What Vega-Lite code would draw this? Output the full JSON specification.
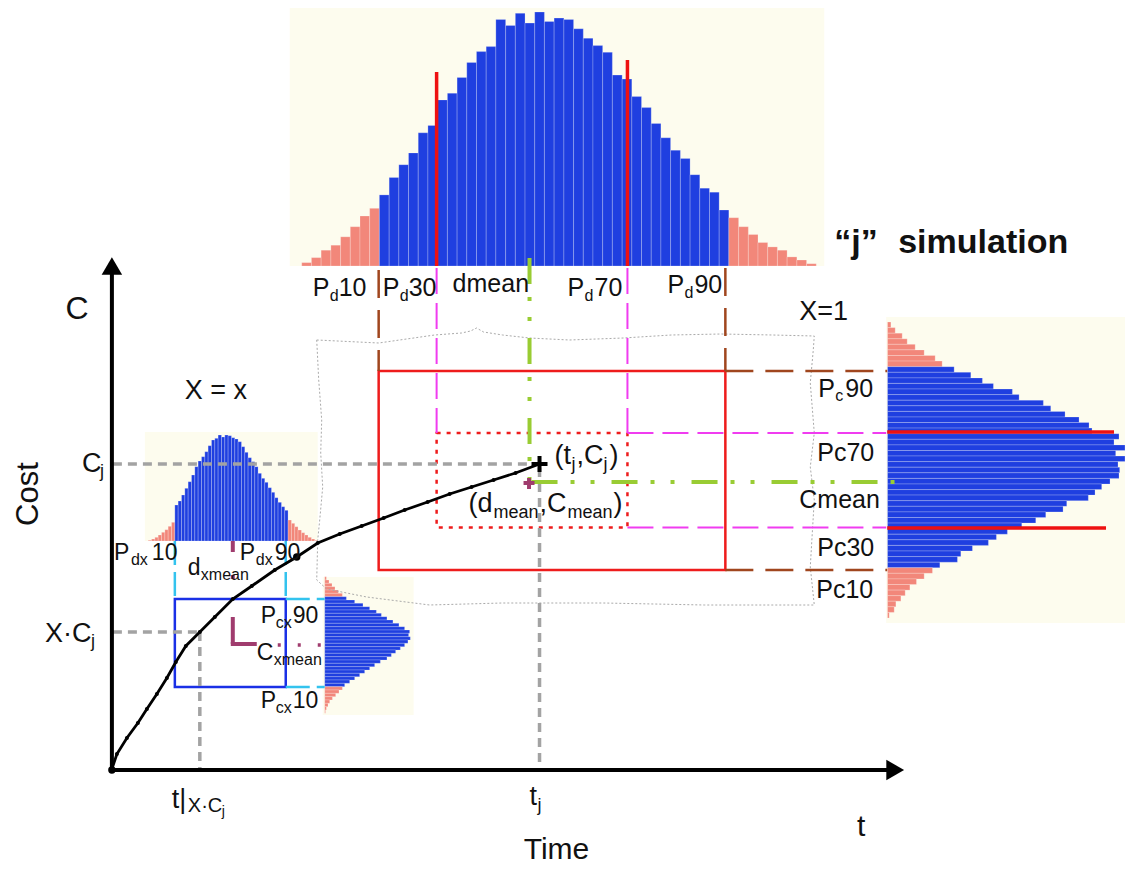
{
"$schema": "https://vega.github.io/schema/vega-lite/v6.json",
"width": 1126, "height": 870, "padding": 0,
"autosize": {"type": "fit", "contains": "padding"},
"background": "white",
"view": {"stroke": null},
"encoding": {
  "x": {"field": "x", "type": "quantitative", "scale": {"domain": [0, 1126], "nice": false, "zero": false}, "axis": null},
  "y": {"field": "y", "type": "quantitative", "scale": {"domain": [0, 870], "reverse": true, "nice": false, "zero": false}, "axis": null}
},
"layer": [
{"data": {"values": [
  {"x": 290, "x2": 825, "y": 8, "y2": 266},
  {"x": 887, "x2": 1126, "y": 317, "y2": 623},
  {"x": 145, "x2": 318, "y": 432, "y2": 541},
  {"x": 323, "x2": 414, "y": 577, "y2": 715}]},
 "mark": {"type": "rect", "fill": "#fdfcee"},
 "encoding": {"x2": {"field": "x2"}, "y2": {"field": "y2"}}},
{"data": {"values": [
{"x":302.0,"x2":311.7,"y":262.6,"y2":266,"c":"s"},{"x":311.7,"x2":321.4,"y":257.6,"y2":266,"c":"s"},{"x":321.4,"x2":331.2,"y":250.2,"y2":266,"c":"s"},{"x":331.2,"x2":340.9,"y":245.2,"y2":266,"c":"s"},{"x":340.9,"x2":350.6,"y":236.8,"y2":266,"c":"s"},{"x":350.6,"x2":360.3,"y":226.7,"y2":266,"c":"s"},{"x":360.3,"x2":370.0,"y":216.0,"y2":266,"c":"s"},{"x":370.0,"x2":379.7,"y":208.3,"y2":266,"c":"s"},
{"x":379.7,"x2":389.5,"y":194.9,"y2":266,"c":"b"},{"x":389.5,"x2":399.2,"y":177.4,"y2":266,"c":"b"},{"x":399.2,"x2":408.9,"y":164.7,"y2":266,"c":"b"},{"x":408.9,"x2":418.6,"y":152.9,"y2":266,"c":"b"},{"x":418.6,"x2":428.3,"y":132.8,"y2":266,"c":"b"},{"x":428.3,"x2":438.0,"y":125.4,"y2":266,"c":"b"},{"x":438.0,"x2":447.8,"y":99.9,"y2":266,"c":"b"},{"x":447.8,"x2":457.5,"y":93.2,"y2":266,"c":"b"},{"x":457.5,"x2":467.2,"y":77.4,"y2":266,"c":"b"},{"x":467.2,"x2":476.9,"y":62.4,"y2":266,"c":"b"},{"x":476.9,"x2":486.6,"y":51.6,"y2":266,"c":"b"},{"x":486.6,"x2":496.3,"y":46.6,"y2":266,"c":"b"},{"x":496.3,"x2":506.1,"y":19.4,"y2":266,"c":"b"},{"x":506.1,"x2":515.8,"y":25.4,"y2":266,"c":"b"},{"x":515.8,"x2":525.5,"y":13.3,"y2":266,"c":"b"},{"x":525.5,"x2":535.2,"y":23.1,"y2":266,"c":"b"},{"x":535.2,"x2":544.9,"y":12.0,"y2":266,"c":"b"},{"x":544.9,"x2":554.6,"y":21.4,"y2":266,"c":"b"},{"x":554.6,"x2":564.4,"y":18.1,"y2":266,"c":"b"},{"x":564.4,"x2":574.1,"y":19.4,"y2":266,"c":"b"},{"x":574.1,"x2":583.8,"y":28.8,"y2":266,"c":"b"},{"x":583.8,"x2":593.5,"y":38.2,"y2":266,"c":"b"},{"x":593.5,"x2":603.2,"y":45.6,"y2":266,"c":"b"},{"x":603.2,"x2":612.9,"y":52.3,"y2":266,"c":"b"},{"x":612.9,"x2":622.7,"y":75.1,"y2":266,"c":"b"},{"x":622.7,"x2":632.4,"y":79.1,"y2":266,"c":"b"},{"x":632.4,"x2":642.1,"y":96.6,"y2":266,"c":"b"},{"x":642.1,"x2":651.8,"y":107.6,"y2":266,"c":"b"},{"x":651.8,"x2":661.5,"y":123.4,"y2":266,"c":"b"},{"x":661.5,"x2":671.2,"y":137.8,"y2":266,"c":"b"},{"x":671.2,"x2":681.0,"y":150.2,"y2":266,"c":"b"},{"x":681.0,"x2":690.7,"y":158.6,"y2":266,"c":"b"},{"x":690.7,"x2":700.4,"y":174.7,"y2":266,"c":"b"},{"x":700.4,"x2":710.1,"y":188.2,"y2":266,"c":"b"},{"x":710.1,"x2":719.8,"y":192.2,"y2":266,"c":"b"},{"x":719.8,"x2":729.5,"y":210.0,"y2":266,"c":"b"},
{"x":729.5,"x2":739.3,"y":217.7,"y2":266,"c":"s"},{"x":739.3,"x2":749.0,"y":226.7,"y2":266,"c":"s"},{"x":749.0,"x2":758.7,"y":234.5,"y2":266,"c":"s"},{"x":758.7,"x2":768.4,"y":242.5,"y2":266,"c":"s"},{"x":768.4,"x2":778.1,"y":246.9,"y2":266,"c":"s"},{"x":778.1,"x2":787.8,"y":250.2,"y2":266,"c":"s"},{"x":787.8,"x2":797.6,"y":256.9,"y2":266,"c":"s"},{"x":797.6,"x2":807.3,"y":260.0,"y2":266,"c":"s"},{"x":807.3,"x2":817.0,"y":263.7,"y2":266,"c":"s"},
{"x":888.3,"x2":891.7,"y":322.0,"y2":327.6,"c":"s"},{"x":888.3,"x2":896,"y":327.6,"y2":333.2,"c":"s"},{"x":888.3,"x2":903,"y":333.2,"y2":338.8,"c":"s"},{"x":888.3,"x2":908,"y":338.8,"y2":344.3,"c":"s"},{"x":888.3,"x2":916,"y":344.3,"y2":349.9,"c":"s"},{"x":888.3,"x2":925,"y":349.9,"y2":355.5,"c":"s"},{"x":888.3,"x2":936,"y":355.5,"y2":361.1,"c":"s"},{"x":888.3,"x2":943,"y":361.1,"y2":366.7,"c":"s"},
{"x":888.3,"x2":955,"y":366.7,"y2":372.3,"c":"b"},{"x":888.3,"x2":971.7,"y":372.3,"y2":377.9,"c":"b"},{"x":888.3,"x2":983.3,"y":377.9,"y2":383.4,"c":"b"},{"x":888.3,"x2":994.3,"y":383.4,"y2":389.0,"c":"b"},{"x":888.3,"x2":1013.3,"y":389.0,"y2":394.6,"c":"b"},{"x":888.3,"x2":1020,"y":394.6,"y2":400.2,"c":"b"},{"x":888.3,"x2":1044.3,"y":400.2,"y2":405.8,"c":"b"},{"x":888.3,"x2":1051.7,"y":405.8,"y2":411.4,"c":"b"},{"x":888.3,"x2":1066,"y":411.4,"y2":417.0,"c":"b"},{"x":888.3,"x2":1080,"y":417.0,"y2":422.5,"c":"b"},{"x":888.3,"x2":1090,"y":422.5,"y2":428.1,"c":"b"},{"x":888.3,"x2":1093,"y":428.1,"y2":433.7,"c":"b"},{"x":888.3,"x2":1120,"y":433.7,"y2":439.3,"c":"b"},{"x":888.3,"x2":1115,"y":439.3,"y2":444.9,"c":"b"},{"x":888.3,"x2":1126,"y":444.9,"y2":450.5,"c":"b"},{"x":888.3,"x2":1116.7,"y":450.5,"y2":456.0,"c":"b"},{"x":888.3,"x2":1126,"y":456.0,"y2":461.6,"c":"b"},{"x":888.3,"x2":1119,"y":461.6,"y2":467.2,"c":"b"},{"x":888.3,"x2":1120.7,"y":467.2,"y2":472.8,"c":"b"},{"x":888.3,"x2":1120,"y":472.8,"y2":478.4,"c":"b"},{"x":888.3,"x2":1111,"y":478.4,"y2":484.0,"c":"b"},{"x":888.3,"x2":1102.7,"y":484.0,"y2":489.6,"c":"b"},{"x":888.3,"x2":1096,"y":489.6,"y2":495.1,"c":"b"},{"x":888.3,"x2":1089.3,"y":495.1,"y2":500.7,"c":"b"},{"x":888.3,"x2":1067.7,"y":500.7,"y2":506.3,"c":"b"},{"x":888.3,"x2":1064,"y":506.3,"y2":511.9,"c":"b"},{"x":888.3,"x2":1046.7,"y":511.9,"y2":517.5,"c":"b"},{"x":888.3,"x2":1036.7,"y":517.5,"y2":523.1,"c":"b"},{"x":888.3,"x2":1022.7,"y":523.1,"y2":528.6,"c":"b"},{"x":888.3,"x2":1008.3,"y":528.6,"y2":534.2,"c":"b"},{"x":888.3,"x2":997.3,"y":534.2,"y2":539.8,"c":"b"},{"x":888.3,"x2":989.3,"y":539.8,"y2":545.4,"c":"b"},{"x":888.3,"x2":973.3,"y":545.4,"y2":551.0,"c":"b"},{"x":888.3,"x2":961.7,"y":551.0,"y2":556.6,"c":"b"},{"x":888.3,"x2":958.3,"y":556.6,"y2":562.2,"c":"b"},{"x":888.3,"x2":940.7,"y":562.2,"y2":567.7,"c":"b"},
{"x":888.3,"x2":933.3,"y":567.7,"y2":573.3,"c":"s"},{"x":888.3,"x2":925,"y":573.3,"y2":578.9,"c":"s"},{"x":888.3,"x2":917.3,"y":578.9,"y2":584.5,"c":"s"},{"x":888.3,"x2":910.7,"y":584.5,"y2":590.1,"c":"s"},{"x":888.3,"x2":906,"y":590.1,"y2":595.7,"c":"s"},{"x":888.3,"x2":901.7,"y":595.7,"y2":601.2,"c":"s"},{"x":888.3,"x2":896.7,"y":601.2,"y2":606.8,"c":"s"},{"x":888.3,"x2":895,"y":606.8,"y2":612.4,"c":"s"},{"x":888.3,"x2":890,"y":612.4,"y2":618.0,"c":"s"},
{"x":148.3,"x2":151.7,"y":540.3,"y2":541,"c":"s"},{"x":151.7,"x2":155.0,"y":539.0,"y2":541,"c":"s"},{"x":155.0,"x2":158.3,"y":537.3,"y2":541,"c":"s"},{"x":158.3,"x2":161.7,"y":535.0,"y2":541,"c":"s"},{"x":161.7,"x2":165.0,"y":532.3,"y2":541,"c":"s"},{"x":165.0,"x2":168.3,"y":529.7,"y2":541,"c":"s"},{"x":168.3,"x2":171.7,"y":526.3,"y2":541,"c":"s"},{"x":171.7,"x2":175.0,"y":522.3,"y2":541,"c":"s"},
{"x":175.0,"x2":178.3,"y":505.0,"y2":541,"c":"b"},{"x":178.3,"x2":181.7,"y":501.0,"y2":541,"c":"b"},{"x":181.7,"x2":185.0,"y":495.0,"y2":541,"c":"b"},{"x":185.0,"x2":188.3,"y":488.3,"y2":541,"c":"b"},{"x":188.3,"x2":191.7,"y":481.7,"y2":541,"c":"b"},{"x":191.7,"x2":195.0,"y":475.0,"y2":541,"c":"b"},{"x":195.0,"x2":198.3,"y":466.7,"y2":541,"c":"b"},{"x":198.3,"x2":201.7,"y":461.0,"y2":541,"c":"b"},{"x":201.7,"x2":205.0,"y":456.7,"y2":541,"c":"b"},{"x":205.0,"x2":208.3,"y":451.7,"y2":541,"c":"b"},{"x":208.3,"x2":211.7,"y":445.7,"y2":541,"c":"b"},{"x":211.7,"x2":215.0,"y":440.0,"y2":541,"c":"b"},{"x":215.0,"x2":218.3,"y":438.3,"y2":541,"c":"b"},{"x":218.3,"x2":221.7,"y":435.0,"y2":541,"c":"b"},{"x":221.7,"x2":225.0,"y":437.0,"y2":541,"c":"b"},{"x":225.0,"x2":228.3,"y":435.0,"y2":541,"c":"b"},{"x":228.3,"x2":231.7,"y":435.7,"y2":541,"c":"b"},{"x":231.7,"x2":235.0,"y":437.7,"y2":541,"c":"b"},{"x":235.0,"x2":238.3,"y":439.0,"y2":541,"c":"b"},{"x":238.3,"x2":241.7,"y":441.7,"y2":541,"c":"b"},{"x":241.7,"x2":245.0,"y":446.7,"y2":541,"c":"b"},{"x":245.0,"x2":248.3,"y":452.3,"y2":541,"c":"b"},{"x":248.3,"x2":251.7,"y":457.7,"y2":541,"c":"b"},{"x":251.7,"x2":255.0,"y":461.7,"y2":541,"c":"b"},{"x":255.0,"x2":258.3,"y":466.7,"y2":541,"c":"b"},{"x":258.3,"x2":261.7,"y":473.3,"y2":541,"c":"b"},{"x":261.7,"x2":265.0,"y":478.3,"y2":541,"c":"b"},{"x":265.0,"x2":268.3,"y":482.3,"y2":541,"c":"b"},{"x":268.3,"x2":271.7,"y":487.7,"y2":541,"c":"b"},{"x":271.7,"x2":275.0,"y":492.3,"y2":541,"c":"b"},{"x":275.0,"x2":278.3,"y":497.7,"y2":541,"c":"b"},{"x":278.3,"x2":281.7,"y":502.3,"y2":541,"c":"b"},{"x":281.7,"x2":285.0,"y":506.7,"y2":541,"c":"b"},{"x":285.0,"x2":288.3,"y":510.3,"y2":541,"c":"b"},
{"x":288.3,"x2":291.7,"y":520.0,"y2":541,"c":"s"},{"x":291.7,"x2":295.0,"y":523.3,"y2":541,"c":"s"},{"x":295.0,"x2":298.3,"y":526.7,"y2":541,"c":"s"},{"x":298.3,"x2":301.7,"y":530.0,"y2":541,"c":"s"},{"x":301.7,"x2":305.0,"y":532.7,"y2":541,"c":"s"},{"x":305.0,"x2":308.3,"y":535.0,"y2":541,"c":"s"},{"x":308.3,"x2":311.7,"y":537.3,"y2":541,"c":"s"},{"x":311.7,"x2":315.0,"y":539.0,"y2":541,"c":"s"},{"x":315.0,"x2":318.3,"y":540.3,"y2":541,"c":"s"},
{"x":325,"x2":326.7,"y":576.7,"y2":580.0,"c":"s"},{"x":325,"x2":329.3,"y":580.0,"y2":583.3,"c":"s"},{"x":325,"x2":332.3,"y":583.3,"y2":586.7,"c":"s"},{"x":325,"x2":335.3,"y":586.7,"y2":590.0,"c":"s"},{"x":325,"x2":338.7,"y":590.0,"y2":593.3,"c":"s"},{"x":325,"x2":342.7,"y":593.3,"y2":596.7,"c":"s"},
{"x":325,"x2":346.7,"y":596.7,"y2":600.0,"c":"b"},{"x":325,"x2":355.0,"y":600.0,"y2":603.3,"c":"b"},{"x":325,"x2":363.3,"y":603.3,"y2":606.7,"c":"b"},{"x":325,"x2":370.0,"y":606.7,"y2":610.0,"c":"b"},{"x":325,"x2":376.7,"y":610.0,"y2":613.3,"c":"b"},{"x":325,"x2":381.7,"y":613.3,"y2":616.7,"c":"b"},{"x":325,"x2":387.3,"y":616.7,"y2":620.0,"c":"b"},{"x":325,"x2":393.3,"y":620.0,"y2":623.3,"c":"b"},{"x":325,"x2":399.3,"y":623.3,"y2":626.7,"c":"b"},{"x":325,"x2":405.0,"y":626.7,"y2":630.0,"c":"b"},{"x":325,"x2":410.0,"y":630.0,"y2":633.3,"c":"b"},{"x":325,"x2":409.0,"y":633.3,"y2":636.7,"c":"b"},{"x":325,"x2":410.7,"y":636.7,"y2":640.0,"c":"b"},{"x":325,"x2":408.3,"y":640.0,"y2":643.3,"c":"b"},{"x":325,"x2":405.0,"y":643.3,"y2":646.7,"c":"b"},{"x":325,"x2":400.7,"y":646.7,"y2":650.0,"c":"b"},{"x":325,"x2":396.0,"y":650.0,"y2":653.3,"c":"b"},{"x":325,"x2":391.7,"y":653.3,"y2":656.7,"c":"b"},{"x":325,"x2":387.3,"y":656.7,"y2":660.0,"c":"b"},{"x":325,"x2":380.7,"y":660.0,"y2":663.3,"c":"b"},{"x":325,"x2":375.0,"y":663.3,"y2":666.7,"c":"b"},{"x":325,"x2":370.0,"y":666.7,"y2":670.0,"c":"b"},{"x":325,"x2":365.0,"y":670.0,"y2":673.3,"c":"b"},{"x":325,"x2":360.0,"y":673.3,"y2":676.7,"c":"b"},{"x":325,"x2":355.0,"y":676.7,"y2":680.0,"c":"b"},{"x":325,"x2":350.0,"y":680.0,"y2":683.3,"c":"b"},{"x":325,"x2":345.0,"y":683.3,"y2":686.7,"c":"b"},
{"x":325,"x2":342.7,"y":686.7,"y2":690.0,"c":"s"},{"x":325,"x2":339.3,"y":690.0,"y2":693.3,"c":"s"},{"x":325,"x2":336.0,"y":693.3,"y2":696.7,"c":"s"},{"x":325,"x2":332.7,"y":696.7,"y2":700.0,"c":"s"},{"x":325,"x2":330.0,"y":700.0,"y2":703.3,"c":"s"},{"x":325,"x2":328.3,"y":703.3,"y2":706.7,"c":"s"},{"x":325,"x2":326.7,"y":706.7,"y2":710.0,"c":"s"},{"x":325,"x2":325.8,"y":710.0,"y2":713.3,"c":"s"}
]},
 "mark": {"type": "rect", "stroke": "#ffffff", "strokeWidth": 0.5, "strokeOpacity": 0.45},
 "encoding": {"x2": {"field": "x2"}, "y2": {"field": "y2"},
   "color": {"field": "c", "type": "nominal", "scale": {"domain": ["b", "s"], "range": ["#1f3fe0", "#f2877a"]}, "legend": null}}},
{"data": {"values": [
  {"o":1,"x":317,"y":340},{"o":2,"x":379,"y":343},{"o":3,"x":435,"y":335},{"o":4,"x":462,"y":333},{"o":5,"x":471,"y":331},{"o":6,"x":477,"y":328},{"o":7,"x":484,"y":332},{"o":8,"x":503,"y":335},{"o":9,"x":530,"y":338},{"o":10,"x":570,"y":340},{"o":11,"x":624,"y":338},{"o":12,"x":672,"y":335},{"o":13,"x":722,"y":334},{"o":14,"x":773,"y":335},{"o":15,"x":815,"y":336},{"o":16,"x":814,"y":350},{"o":17,"x":811,"y":383},{"o":18,"x":815,"y":433},{"o":19,"x":811,"y":467},{"o":20,"x":815,"y":500},{"o":21,"x":813,"y":533},{"o":22,"x":811,"y":567},{"o":23,"x":815,"y":605},{"o":24,"x":705,"y":605},{"o":25,"x":604,"y":603},{"o":26,"x":503,"y":603},{"o":27,"x":430,"y":605},{"o":28,"x":367,"y":597},{"o":29,"x":327,"y":589},{"o":30,"x":317,"y":580},{"o":31,"x":318,"y":540},{"o":32,"x":320,"y":520},{"o":33,"x":323,"y":487},{"o":34,"x":321,"y":453},{"o":35,"x":322,"y":420},{"o":36,"x":319,"y":380},{"o":37,"x":317,"y":340}]},
 "mark": {"type": "line", "color": "#aaaaaa", "strokeWidth": 1, "strokeDash": [2, 2]},
 "encoding": {"order": {"field": "o", "type": "quantitative"}}},
{"data": {"values": [{"x": 379, "x2": 726, "y": 371, "y2": 570}]},
 "mark": {"type": "rect", "filled": false, "stroke": "#ee1c1c", "strokeWidth": 2.5},
 "encoding": {"x2": {"field": "x2"}, "y2": {"field": "y2"}}},
{"data": {"values": [{"x": 437, "x2": 628, "y": 433, "y2": 527.5}]},
 "mark": {"type": "rect", "filled": false, "stroke": "#ee1c1c", "strokeWidth": 2.5, "strokeDash": [4, 6]},
 "encoding": {"x2": {"field": "x2"}, "y2": {"field": "y2"}}},
{"data": {"values": [{"x": 175, "x2": 286, "y": 599, "y2": 687}]},
 "mark": {"type": "rect", "filled": false, "stroke": "#1a30e6", "strokeWidth": 2.5},
 "encoding": {"x2": {"field": "x2"}, "y2": {"field": "y2"}}},
{"data": {"values": [
  {"x": 437, "y": 268, "x2": 437, "y2": 433}, {"x": 628, "y": 268, "x2": 628, "y2": 433},
  {"x": 628, "y": 433, "x2": 887, "y2": 433}, {"x": 628, "y": 527.5, "x2": 887, "y2": 527.5}]},
 "mark": {"type": "rule", "color": "#f03cf0", "strokeWidth": 2, "strokeDash": [26, 9]},
 "encoding": {"x2": {"field": "x2"}, "y2": {"field": "y2"}}},
{"data": {"values": [
  {"x": 379, "y": 270, "x2": 379, "y2": 371}, {"x": 726, "y": 268, "x2": 726, "y2": 371},
  {"x": 726, "y": 371, "x2": 888, "y2": 371}, {"x": 726, "y": 570, "x2": 888, "y2": 570}]},
 "mark": {"type": "rule", "color": "#a0461e", "strokeWidth": 2.5, "strokeDash": [28, 12]},
 "encoding": {"x2": {"field": "x2"}, "y2": {"field": "y2"}}},
{"data": {"values": [
  {"x": 175, "y": 541, "x2": 175, "y2": 599}, {"x": 286, "y": 541, "x2": 286, "y2": 599},
  {"x": 286, "y": 599, "x2": 325, "y2": 599}, {"x": 286, "y": 687, "x2": 325, "y2": 687}]},
 "mark": {"type": "rule", "color": "#33c3ee", "strokeWidth": 2.5, "strokeDash": [24, 7]},
 "encoding": {"x2": {"field": "x2"}, "y2": {"field": "y2"}}},
{"data": {"values": [
  {"x": 113, "y": 464, "x2": 537, "y2": 464}, {"x": 540, "y": 468, "x2": 540, "y2": 768},
  {"x": 113, "y": 632, "x2": 200, "y2": 632}, {"x": 200, "y": 632, "x2": 200, "y2": 768}]},
 "mark": {"type": "rule", "color": "#a3a3a3", "strokeWidth": 3.5, "strokeDash": [9, 6]},
 "encoding": {"x2": {"field": "x2"}, "y2": {"field": "y2"}}},
{"data": {"values": [
  {"x": 530, "y": 258, "x2": 530, "y2": 482}, {"x": 532, "y": 482, "x2": 906, "y2": 482}]},
 "mark": {"type": "rule", "color": "#99cc33", "strokeWidth": 4, "strokeDash": [26, 13, 4, 16, 4, 17]},
 "encoding": {"x2": {"field": "x2"}, "y2": {"field": "y2"}}},
{"data": {"values": [
  {"x": 233, "y": 541, "x2": 233, "y2": 552}, {"x": 233, "y": 575, "x2": 233, "y2": 579},
  {"x": 233, "y": 617, "x2": 233, "y2": 644}, {"x": 231, "y": 644, "x2": 257, "y2": 644},
  {"x": 524, "y": 483, "x2": 535, "y2": 483}, {"x": 529.5, "y": 478, "x2": 529.5, "y2": 489}]},
 "mark": {"type": "rule", "color": "#a03c6e", "strokeWidth": 4},
 "encoding": {"x2": {"field": "x2"}, "y2": {"field": "y2"}}},
{"data": {"values": [{"x": 278, "y": 645, "x2": 324, "y2": 645}]},
 "mark": {"type": "rule", "color": "#a03c6e", "strokeWidth": 3.5, "strokeDash": [3, 17]},
 "encoding": {"x2": {"field": "x2"}, "y2": {"field": "y2"}}},
{"data": {"values": [
  {"x": 437, "y": 72, "x2": 437, "y2": 266}, {"x": 628, "y": 60, "x2": 628, "y2": 266},
  {"x": 888, "y": 432, "x2": 1115, "y2": 432}, {"x": 888, "y": 528, "x2": 1107, "y2": 528}]},
 "mark": {"type": "rule", "color": "#ee1111", "strokeWidth": 3.5},
 "encoding": {"x2": {"field": "x2"}, "y2": {"field": "y2"}}},
{"data": {"values": [
  {"x": 112, "y": 770, "x2": 112, "y2": 274}, {"x": 110, "y": 770, "x2": 888, "y2": 770},
  {"x": 532, "y": 464, "x2": 548, "y2": 464}, {"x": 540, "y": 456, "x2": 540, "y2": 472}]},
 "mark": {"type": "rule", "color": "#000000", "strokeWidth": 4},
 "encoding": {"x2": {"field": "x2"}, "y2": {"field": "y2"}}},
{"data": {"values": [{"x": 112, "y": 266}]},
 "mark": {"type": "point", "shape": "triangle-up", "filled": true, "color": "#000000", "size": 420, "opacity": 1}},
{"data": {"values": [{"x": 896, "y": 770}]},
 "mark": {"type": "point", "shape": "triangle-right", "filled": true, "color": "#000000", "size": 420, "opacity": 1}},
{"data": {"values": [
  {"o":1,"x":112,"y":769},{"o":2,"x":117,"y":754},{"o":3,"x":127,"y":738},{"o":4,"x":138,"y":723},{"o":5,"x":147,"y":709},{"o":6,"x":157,"y":694},{"o":7,"x":167,"y":678},{"o":8,"x":176,"y":662},{"o":9,"x":186,"y":646},{"o":10,"x":200,"y":632},{"o":11,"x":215,"y":617},{"o":12,"x":233,"y":599},{"o":13,"x":252,"y":586},{"o":14,"x":275,"y":570},{"o":15,"x":297,"y":557},{"o":16,"x":318,"y":543},{"o":17,"x":340,"y":534},{"o":18,"x":362,"y":526},{"o":19,"x":384,"y":518},{"o":20,"x":405,"y":510},{"o":21,"x":428,"y":502},{"o":22,"x":450,"y":494},{"o":23,"x":472,"y":487},{"o":24,"x":494,"y":480},{"o":25,"x":516,"y":473},{"o":26,"x":540,"y":464}]},
 "layer": [
   {"mark": {"type": "line", "color": "#000000", "strokeWidth": 2.8},
    "encoding": {"order": {"field": "o", "type": "quantitative"}}},
   {"mark": {"type": "point", "filled": true, "color": "#000000", "size": 16, "opacity": 1}}
 ]},
{"data": {"values": [{"x": 297, "y": 557}, {"x": 112, "y": 770}]},
 "mark": {"type": "point", "filled": true, "color": "#000000", "size": 55, "opacity": 1}},
{"data": {"values": [
  {"t":"P","x":313,"y":296},{"t":"10","x":339,"y":296},
  {"t":"P","x":383,"y":296},{"t":"30","x":409,"y":296},
  {"t":"dmean","x":453,"y":292},
  {"t":"P","x":568,"y":296},{"t":"70","x":595,"y":296},
  {"t":"P","x":668,"y":293},{"t":"90","x":695,"y":293},
  {"t":"P","x":819,"y":397},{"t":"90","x":846,"y":397},
  {"t":"Pc70","x":818,"y":461},
  {"t":"Cmean","x":800,"y":508},
  {"t":"Pc30","x":818,"y":556},
  {"t":"Pc10","x":817,"y":598}]},
 "mark": {"type": "text", "font": "Liberation Sans", "fontSize": 25, "align": "left", "baseline": "alphabetic", "color": "#111111"},
 "encoding": {"text": {"field": "t"}}},
{"data": {"values": [
  {"t":"d","x":330,"y":301},{"t":"d","x":400,"y":301},{"t":"d","x":585,"y":301},{"t":"d","x":685,"y":298},{"t":"c","x":836,"y":401}]},
 "mark": {"type": "text", "font": "Liberation Sans", "fontSize": 16, "align": "left", "baseline": "alphabetic", "color": "#111111"},
 "encoding": {"text": {"field": "t"}}},
{"data": {"values": [
  {"t":"(t","x":555,"y":464},{"t":",C","x":577,"y":464},{"t":")","x":610,"y":464},
  {"t":"(d","x":469,"y":512},{"t":",C","x":540,"y":512},{"t":")","x":614,"y":512},
  {"t":"C","x":82,"y":472},
  {"t":"X·C","x":45,"y":642},
  {"t":"X = x","x":185,"y":399},
  {"t":"X=1","x":800,"y":320},
  {"t":"t","x":530,"y":805},
  {"t":"t|","x":172,"y":808}]},
 "mark": {"type": "text", "font": "Liberation Sans", "fontSize": 27, "align": "left", "baseline": "alphabetic", "color": "#111111"},
 "encoding": {"text": {"field": "t"}}},
{"data": {"values": [
  {"t":"j","x":572,"y":470},{"t":"j","x":604,"y":470},
  {"t":"mean","x":494,"y":518},{"t":"mean","x":568,"y":518},
  {"t":"j","x":100,"y":477},{"t":"j","x":91,"y":647},
  {"t":"j","x":538,"y":811}]},
 "mark": {"type": "text", "font": "Liberation Sans", "fontSize": 18, "align": "left", "baseline": "alphabetic", "color": "#111111"},
 "encoding": {"text": {"field": "t"}}},
{"data": {"values": [{"t":"X·C","x":188,"y":812}]},
 "mark": {"type": "text", "font": "Liberation Sans", "fontSize": 20, "align": "left", "baseline": "alphabetic", "color": "#111111"},
 "encoding": {"text": {"field": "t"}}},
{"data": {"values": [{"t":"j","x":222,"y":816}]},
 "mark": {"type": "text", "font": "Liberation Sans", "fontSize": 14, "align": "left", "baseline": "alphabetic", "color": "#111111"},
 "encoding": {"text": {"field": "t"}}},
{"data": {"values": [
  {"t":"P","x":114,"y":560},{"t":"10","x":152,"y":560},
  {"t":"P","x":240,"y":560},{"t":"90","x":275,"y":560},
  {"t":"d","x":188,"y":575},
  {"t":"P","x":261,"y":623},{"t":"90","x":293,"y":623},
  {"t":"C","x":257,"y":660},
  {"t":"P","x":261,"y":708},{"t":"10","x":293,"y":708}]},
 "mark": {"type": "text", "font": "Liberation Sans", "fontSize": 23, "align": "left", "baseline": "alphabetic", "color": "#111111"},
 "encoding": {"text": {"field": "t"}}},
{"data": {"values": [
  {"t":"dx","x":131,"y":565},{"t":"dx","x":256,"y":565},
  {"t":"xmean","x":201,"y":580},
  {"t":"cx","x":276,"y":628},
  {"t":"xmean","x":274,"y":665},
  {"t":"cx","x":276,"y":713}]},
 "mark": {"type": "text", "font": "Liberation Sans", "fontSize": 16, "align": "left", "baseline": "alphabetic", "color": "#111111"},
 "encoding": {"text": {"field": "t"}}},
{"data": {"values": [{"t":"C","x":77,"y":319}]},
 "mark": {"type": "text", "font": "Liberation Sans", "fontSize": 32, "align": "center", "baseline": "alphabetic", "color": "#111111"},
 "encoding": {"text": {"field": "t"}}},
{"data": {"values": [{"t":"Time","x":557,"y":859},{"t":"t","x":862,"y":836}]},
 "mark": {"type": "text", "font": "Liberation Sans", "fontSize": 30, "align": "center", "baseline": "alphabetic", "color": "#111111"},
 "encoding": {"text": {"field": "t"}}},
{"data": {"values": [{"t":"Cost","x":29,"y":494}]},
 "mark": {"type": "text", "font": "Liberation Sans", "fontSize": 31, "align": "center", "baseline": "middle", "angle": 270, "color": "#111111"},
 "encoding": {"text": {"field": "t"}}},
{"data": {"values": [{"t":"“j”","x":835,"y":253},{"t":"simulation","x":899,"y":253}]},
 "mark": {"type": "text", "font": "Liberation Sans", "fontSize": 34, "fontWeight": "bold", "align": "left", "baseline": "alphabetic", "color": "#111111"},
 "encoding": {"text": {"field": "t"}}}
]
}
